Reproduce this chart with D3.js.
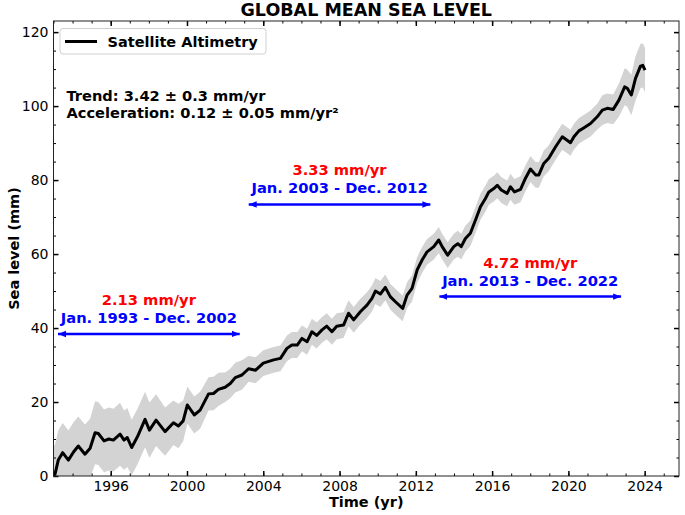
<!DOCTYPE html>
<html lang="en">
<head>
<meta charset="utf-8">
<title>global mean sea level</title>
<script src="https://d3js.org/d3.v7.min.js"></script>
<style type="text/css">
    body{margin:0;background:#fff;font-family:"DejaVu Sans",sans-serif;}
    #chart1 text{font-family:"DejaVu Sans",sans-serif;}
    .axis text{font-size:14px;fill:#000;}
    .axis line{stroke:#000;}
    .bold{font-weight:bold;}
</style>
</head>
<body>
<div id="chart1"></div>
<script type="text/javascript">
// GMSL (mm), with the half width of the grey band
var years = [1993.0, 1993.08, 1993.25, 1993.48, 1993.78, 1994.05, 1994.3, 1994.65, 1994.92, 1995.18,
    1995.35, 1995.65, 1995.9, 1996.14, 1996.49, 1996.7, 1996.87, 1997.1, 1997.4, 1997.8,
    1998.03, 1998.38, 1998.85, 1999.29, 1999.55, 1999.8, 2000.02, 2000.38, 2000.69, 2001.13,
    2001.39, 2001.65, 2002.0, 2002.27, 2002.53, 2002.88, 2003.23, 2003.6, 2004.0, 2004.54,
    2004.9, 2005.24, 2005.5, 2005.78, 2006.03, 2006.3, 2006.55, 2006.8, 2007.08, 2007.33,
    2007.6, 2007.85, 2008.21, 2008.47, 2008.74, 2009.09, 2009.44, 2009.7, 2009.88, 2010.14,
    2010.4, 2010.66, 2010.93, 2011.31, 2011.54, 2011.8, 2012.07, 2012.33, 2012.59, 2012.94,
    2013.2, 2013.38, 2013.67, 2013.99, 2014.2, 2014.38, 2014.6, 2014.86, 2015.13, 2015.39,
    2015.65, 2015.83, 2016.09, 2016.27, 2016.48, 2016.79, 2016.96, 2017.17, 2017.49, 2017.75,
    2018.01, 2018.28, 2018.45, 2018.71, 2018.97, 2019.33, 2019.68, 2020.11, 2020.29, 2020.55,
    2020.8, 2021.16, 2021.51, 2021.78, 2022.04, 2022.35, 2022.65, 2022.95, 2023.09, 2023.3,
    2023.52, 2023.78, 2023.9, 2024.02]
var gmsl = [0, 0.5, 4.3, 6.3, 4.3, 6.5, 8.1, 5.9, 7.5, 11.7,
    11.5, 9.5, 10, 9.7, 11.3, 9.7, 10.4, 7.7, 10.6, 15.3,
    12.4, 15.1, 12, 14.4, 13.5, 14.9, 19.2, 16.5, 17.8, 22.2,
    22.3, 23.4, 24, 25, 26.6, 27.3, 29, 28.6, 30.5, 31.4,
    31.8, 34.5, 35.4, 35.4, 37.2, 36.3, 39, 38, 39.5, 40.5,
    39, 40.5, 40.8, 44, 42.2, 44.4, 46.2, 48, 50, 49.2,
    51, 48.5, 47.1, 45.3, 48.9, 50.7, 55.7, 58.4, 60.6, 62,
    63.8, 62, 59.7, 62, 62.8, 62, 64.2, 65.6, 69.2, 72.8,
    75, 76.8, 77.7, 78.6, 77.3, 76.4, 78.2, 76.8, 77.5, 80.5,
    83, 81.4, 81.4, 84.5, 85.9, 89, 91.7, 90.1, 91.7, 93.3,
    94.1, 95.3, 97.1, 98.9, 99.4, 99.1, 101.6, 105.2, 104.8, 103,
    107.5, 110.8, 111, 109.7]
var gmslErr = [8, 8, 8, 8, 8, 8, 8, 8, 8, 8.5,
    8.5, 8.5, 8.5, 8.5, 8.5, 8, 8, 7.5, 7.5, 7.5,
    7.5, 7, 6.5, 6, 6, 5.5, 5, 5, 5, 4.5,
    4.5, 4.5, 4, 4, 4, 4, 3.5, 3.5, 3.5, 3.5,
    3.5, 3.5, 3.5, 3.5, 3.5, 3.5, 3.5, 3.5, 3.5, 3.5,
    3.5, 3.5, 3.5, 3.5, 3.5, 3.5, 3.5, 3.5, 3.5, 3.5,
    3.5, 3.5, 3.5, 3.5, 3.5, 3.5, 3.5, 3.5, 3.5, 3.5,
    3.5, 3.5, 3.5, 3.5, 3.5, 3.5, 3.5, 3.5, 3.5, 3.5,
    3.5, 3.5, 3.5, 3.5, 3.5, 3.5, 3.5, 3.5, 3.5, 3.5,
    3.5, 3.5, 3.5, 3.5, 3.5, 3.5, 3.5, 3.5, 3.5, 3.5,
    3.5, 3.5, 3.5, 4, 4, 4, 4.5, 5, 5, 5.5,
    6, 6, 6, 6]

var xTicks = [1996, 2000, 2004, 2008, 2012, 2016, 2020, 2024]
var yTicks = [0, 20, 40, 60, 80, 100, 120]

// the three decades with their rates
var periodStart = [1993, 2003, 2013]
var periodEnd = [2003, 2013, 2023]
var periodRate = ["2.13 mm/yr", "3.33 mm/yr", "4.72 mm/yr"]
var periodText = ["Jan. 1993 - Dec. 2002", "Jan. 2003 - Dec. 2012", "Jan. 2013 - Dec. 2022"]

var statsText = ["Trend: 3.42 \u00b1 0.3 mm/yr", "Acceleration: 0.12 \u00b1 0.05 mm/yr\u00b2"]

drawChart()

function drawChart(){
    var w = 685
    var h = 515
    var left = 53.5, right = 679, top = 21, bottom = 476
    var arrowLevel = [38.4, 73.4, 48.5]

    var xScale = d3.scaleLinear().domain([1993, 2025.8]).range([left, right])
    var yScale = d3.scaleLinear().domain([0, 123]).range([bottom, top])

    var data = years.map(function(d, i){
        return {year: d, v: gmsl[i], e: gmslErr[i]}
    })

    var svg = d3.select("#chart1")
                .append("svg")
                .attr("width", w)
                .attr("height", h)

    svg.append("defs").append("clipPath")
        .attr("id", "plotClip")
        .append("rect")
        .attr("x", left).attr("y", top)
        .attr("width", right - left).attr("height", bottom - top)

    var arrowDefs = svg.select("defs")
    arrowDefs.append("marker")
        .attr("id", "headEnd")
        .attr("viewBox", "0 0 10 10")
        .attr("refX", 10).attr("refY", 5)
        .attr("markerUnits", "userSpaceOnUse")
        .attr("markerWidth", 8).attr("markerHeight", 8)
        .attr("orient", "auto")
        .append("path")
        .attr("d", "M0,1 L10,5 L0,9 Z")
        .attr("fill", "blue")
    arrowDefs.append("marker")
        .attr("id", "headStart")
        .attr("viewBox", "0 0 10 10")
        .attr("refX", 0).attr("refY", 5)
        .attr("markerUnits", "userSpaceOnUse")
        .attr("markerWidth", 8).attr("markerHeight", 8)
        .attr("orient", "auto")
        .append("path")
        .attr("d", "M10,1 L0,5 L10,9 Z")
        .attr("fill", "blue")

    // uncertainty band
    var band = d3.area()
        .x(function(d){ return xScale(d.year) })
        .y0(function(d){ return yScale(d.v - d.e) })
        .y1(function(d){ return yScale(d.v + d.e) })
    svg.append("path")
        .datum(data)
        .attr("clip-path", "url(#plotClip)")
        .attr("d", band)
        .attr("fill", "#d3d3d3")

    var line = d3.line()
        .x(function(d){ return xScale(d.year) })
        .y(function(d){ return yScale(d.v) })
    svg.append("path")
        .datum(data)
        .attr("clip-path", "url(#plotClip)")
        .attr("d", line)
        .attr("fill", "none")
        .attr("stroke", "#000")
        .attr("stroke-width", 3)
        .attr("stroke-linejoin", "round")

    // ticks point inwards on all four sides
    var xMinor = d3.range(1993, 2026, 1)
    var yMinor = d3.range(0, 125, 5)

    function addAxis(axis, tx, ty, labels){
        var g = svg.append("g")
            .attr("class", "axis")
            .attr("transform", "translate(" + tx + "," + ty + ")")
            .call(axis)
        g.select(".domain").remove()
        if(!labels){ g.selectAll("text").remove() }
        return g
    }

    addAxis(d3.axisBottom(xScale).tickValues(xMinor).tickSize(-2.5).tickFormat(""), 0, bottom, false)
    addAxis(d3.axisTop(xScale).tickValues(xMinor).tickSize(-2.5).tickFormat(""), 0, top, false)
    addAxis(d3.axisLeft(yScale).tickValues(yMinor).tickSize(-2.5).tickFormat(""), left, 0, false)
    addAxis(d3.axisRight(yScale).tickValues(yMinor).tickSize(-2.5).tickFormat(""), right, 0, false)

    addAxis(d3.axisBottom(xScale).tickValues(xTicks).tickSize(-5).tickPadding(5).tickFormat(d3.format("d")), 0, bottom, true)
        .selectAll("line").attr("stroke-width", 1.5)
    addAxis(d3.axisTop(xScale).tickValues(xTicks).tickSize(-5), 0, top, false)
        .selectAll("line").attr("stroke-width", 1.5)
    addAxis(d3.axisLeft(yScale).tickValues(yTicks).tickSize(-5).tickPadding(5).tickFormat(d3.format("d")), left, 0, true)
        .selectAll("line").attr("stroke-width", 1.5)
    addAxis(d3.axisRight(yScale).tickValues(yTicks).tickSize(-5), right, 0, false)
        .selectAll("line").attr("stroke-width", 1.5)

    // frame
    svg.append("rect")
        .attr("x", left).attr("y", top)
        .attr("width", right - left).attr("height", bottom - top)
        .attr("fill", "none")
        .attr("stroke", "#222")
        .attr("stroke-width", 1)

    // titles
    svg.append("text")
        .attr("class", "bold")
        .attr("x", (left + right) / 2).attr("y", 15.5)
        .attr("text-anchor", "middle")
        .attr("font-size", "17.5px")
        .text("GLOBAL MEAN SEA LEVEL")
    svg.append("text")
        .attr("class", "bold")
        .attr("x", (left + right) / 2).attr("y", 507)
        .attr("text-anchor", "middle")
        .attr("font-size", "14.5px")
        .text("Time (yr)")
    svg.append("text")
        .attr("class", "bold")
        .attr("transform", "translate(19," + (top + bottom) / 2 + ") rotate(-90)")
        .attr("text-anchor", "middle")
        .attr("font-size", "14.5px")
        .text("Sea level (mm)")

    // legend
    svg.append("rect")
        .attr("x", 60).attr("y", 28.5)
        .attr("width", 206).attr("height", 25.5)
        .attr("rx", 3)
        .attr("fill", "#fff")
        .attr("fill-opacity", 0.8)
        .attr("stroke", "#d0d0d0")
    svg.append("line")
        .attr("x1", 65).attr("x2", 97)
        .attr("y1", 41.5).attr("y2", 41.5)
        .attr("stroke", "#000")
        .attr("stroke-width", 3)
    svg.append("text")
        .attr("class", "bold")
        .attr("x", 107.5).attr("y", 46.5)
        .attr("font-size", "14.5px")
        .text("Satellite Altimetry")

    svg.selectAll(".stats")
        .data(statsText)
        .enter()
        .append("text")
        .attr("class", "stats bold")
        .attr("x", 66.5)
        .attr("y", function(d, i){ return 101 + i * 16.5 })
        .attr("font-size", "14.6px")
        .text(function(d){ return d })

    // decade arrows and labels
    var periods = svg.selectAll(".period")
        .data(periodStart)
        .enter()
        .append("g")
        .attr("class", "period")

    periods.append("line")
        .attr("x1", function(d, i){ return xScale(periodStart[i]) + 4.5 })
        .attr("x2", function(d, i){ return xScale(periodEnd[i]) - 4.5 })
        .attr("y1", function(d, i){ return yScale(arrowLevel[i]) })
        .attr("y2", function(d, i){ return yScale(arrowLevel[i]) })
        .attr("stroke", "blue")
        .attr("stroke-width", 2.5)
        .attr("marker-start", "url(#headStart)")
        .attr("marker-end", "url(#headEnd)")

    periods.append("text")
        .attr("class", "bold")
        .attr("x", function(d, i){ return xScale((periodStart[i] + periodEnd[i]) / 2) })
        .attr("y", function(d, i){ return yScale(arrowLevel[i]) - 29 })
        .attr("text-anchor", "middle")
        .attr("font-size", "14.7px")
        .attr("fill", "red")
        .text(function(d, i){ return periodRate[i] })

    periods.append("text")
        .attr("class", "bold")
        .attr("x", function(d, i){ return xScale((periodStart[i] + periodEnd[i]) / 2) })
        .attr("y", function(d, i){ return yScale(arrowLevel[i]) - 11 })
        .attr("text-anchor", "middle")
        .attr("font-size", "14.7px")
        .attr("fill", "blue")
        .text(function(d, i){ return periodText[i] })
}
</script>
</body>
</html>
